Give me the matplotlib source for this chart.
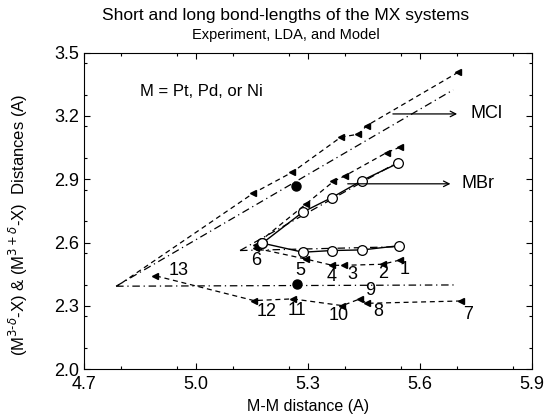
import matplotlib
matplotlib.use("Agg")
import matplotlib.pyplot as plt
from matplotlib.ticker import MultipleLocator

plt.rcParams['font.family'] = ['Liberation Sans', 'DejaVu Sans']

# MCl experiment (short and long bonds), points 7..13
mcl_x_short = [5.710, 5.457, 5.439, 5.392, 5.259, 5.155, 4.890]
mcl_y_short = [2.323, 2.312, 2.333, 2.301, 2.333, 2.325, 2.443]
mcl_x_long = [5.703, 5.457, 5.435, 5.388, 5.258, 5.154, 4.790]
mcl_y_long = [3.407, 3.153, 3.113, 3.099, 2.933, 2.834, 2.395]

# MBr experiment, points 1..6
mbr_x_short = [5.546, 5.500, 5.397, 5.365, 5.296, 5.160]
mbr_y_short = [2.517, 2.497, 2.492, 2.492, 2.521, 2.573]
mbr_x_long = [5.547, 5.511, 5.399, 5.368, 5.295, 5.160]
mbr_y_long = [3.052, 3.026, 2.916, 2.889, 2.783, 2.590]

# LDA (open circles)
lda_x_short = [5.178, 5.286, 5.364, 5.446, 5.545]
lda_y_short = [2.597, 2.554, 2.562, 2.565, 2.585]
lda_x_long = [5.178, 5.286, 5.364, 5.444, 5.542]
lda_y_long = [2.597, 2.744, 2.813, 2.893, 2.976]

# Model lines (dash-dot)
model_mcl_x_short = [4.786, 5.698]
model_mcl_y_short = [2.393, 2.399]
model_mcl_x_long = [4.786, 5.689]
model_mcl_y_long = [2.393, 3.323]
model_mbr_x_short = [5.118, 5.545]
model_mbr_y_short = [2.562, 2.580]
model_mbr_x_long = [5.118, 5.545]
model_mbr_y_long = [2.562, 2.985]

# Filled dots
dot_x = [5.268, 5.270]
dot_y = [2.870, 2.402]

# Point labels
label_text = ['1', '2', '3', '4', '5', '6', '7', '8', '9', '10', '11', '12', '13']
label_x = [5.560, 5.500, 5.420, 5.364, 5.279, 5.161, 5.729, 5.488, 5.466, 5.381, 5.270, 5.188, 4.953]
label_y = [2.470, 2.455, 2.447, 2.438, 2.467, 2.513, 2.257, 2.273, 2.375, 2.252, 2.276, 2.273, 2.466]

fig = plt.figure(figsize=(5.49, 4.20), dpi=100)
ax = fig.add_axes([0.153, 0.121, 0.816, 0.754])

dash = dict(color='black', lw=0.9, linestyle=(0, (4, 3)))
dashdot = dict(color='black', lw=0.9, linestyle=(0, (6, 3, 1, 3)))
tri = dict(marker='<', markersize=4.5, markerfacecolor='black', markeredgecolor='black')

ax.plot(model_mcl_x_short, model_mcl_y_short, **dashdot)
ax.plot(model_mcl_x_long, model_mcl_y_long, **dashdot)
ax.plot(model_mbr_x_short, model_mbr_y_short, **dashdot)
ax.plot(model_mbr_x_long, model_mbr_y_long, **dashdot)

ax.plot(mcl_x_short, mcl_y_short, **dash, **tri)
ax.plot(mcl_x_long, mcl_y_long, **dash, **tri, markevery=list(range(6)))
ax.plot(mbr_x_short, mbr_y_short, **dash, **tri)
ax.plot(mbr_x_long, mbr_y_long, **dash, **tri)

ax.plot(lda_x_short, lda_y_short, color='black', lw=1.0, marker='o', markersize=7,
        markerfacecolor='white', markeredgecolor='black', markeredgewidth=0.9)
ax.plot(lda_x_long, lda_y_long, color='black', lw=1.0, marker='o', markersize=7,
        markerfacecolor='white', markeredgecolor='black', markeredgewidth=0.9)

ax.plot(dot_x, dot_y, linestyle='none', marker='o', markersize=6.5, color='black')

for t, x, y in zip(label_text, label_x, label_y):
    ax.text(x, y, t, fontsize=13, ha='center', va='center')

ax.text(4.85, 3.315, 'M = Pt, Pd, or Ni', fontsize=12, ha='left', va='center')

ax.annotate('', xy=(5.707, 3.209), xytext=(5.52, 3.209),
            arrowprops=dict(arrowstyle='->', color='black', lw=0.9))
ax.text(5.735, 3.209, 'MCl', fontsize=13, ha='left', va='center')
ax.annotate('', xy=(5.689, 2.878), xytext=(5.399, 2.878),
            arrowprops=dict(arrowstyle='->', color='black', lw=0.9))
ax.text(5.712, 2.878, 'MBr', fontsize=13, ha='left', va='center')

ax.set_xlim(4.7, 5.9)
ax.set_ylim(2.0, 3.5)
ax.xaxis.set_major_locator(MultipleLocator(0.3))
ax.xaxis.set_minor_locator(MultipleLocator(0.15))
ax.yaxis.set_major_locator(MultipleLocator(0.3))
ax.yaxis.set_minor_locator(MultipleLocator(0.15))
ax.tick_params(which='both', direction='in', top=True, right=True, labelsize=13, length=4, width=0.8)
ax.tick_params(which='minor', length=2.5)
ax.tick_params(axis='x', pad=5)
ax.set_xticks([4.7, 5.0, 5.3, 5.6, 5.9])
ax.set_xticklabels(['4.7', '5.0', '5.3', '5.6', '5.9'])
ax.set_yticks([2.0, 2.3, 2.6, 2.9, 3.2, 3.5])
ax.set_yticklabels(['2.0', '2.3', '2.6', '2.9', '3.2', '3.5'])
for s in ax.spines.values():
    s.set_linewidth(0.8)

ax.set_xlabel('M-M distance (A)', fontsize=11.5)
ax.xaxis.set_label_coords(0.5, -0.095)
ax.set_ylabel(r'(M$^{3\text{-}\delta}$-X) & (M$^{3+\delta}$-X)  Distances (A)', fontsize=12)
ax.yaxis.set_label_coords(-0.12, 0.455)

fig.text(0.52, 0.963, 'Short and long bond-lengths of the MX systems', fontsize=12.5, ha='center', va='center')
fig.text(0.52, 0.917, 'Experiment, LDA, and Model', fontsize=10.5, ha='center', va='center')

fig.savefig('out.png', dpi=100)
